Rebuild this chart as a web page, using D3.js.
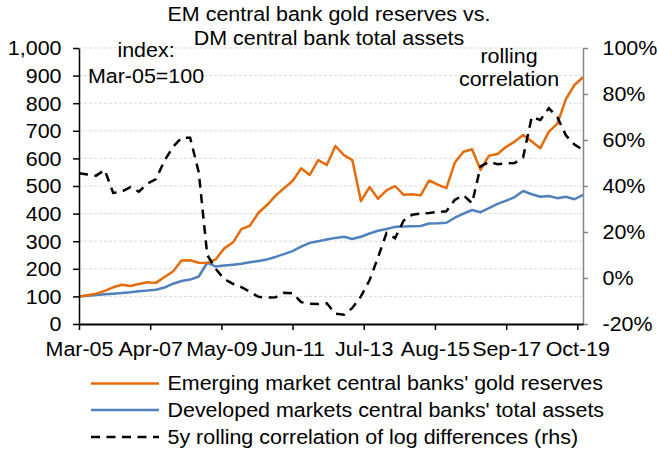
<!DOCTYPE html>
<html>
<head>
<meta charset="utf-8">
<script src="https://cdn.jsdelivr.net/npm/d3@7"></script>
<style>
  html, body { margin: 0; padding: 0; background: #fff; }
  svg { display: block; font-family: "Liberation Sans", Arial, sans-serif; }
</style>
</head>
<body>
<svg id="chart" width="657" height="450"></svg>
<script>
// ---------------- data (quarterly, Mar-05 .. Dec-19) ----------------
const emGold = [100,104,110,120,133,142,138,145,151,149,
                170,190,230,231,222,221,234,274,295,344,
                356,403,431,465,492,518,564,540,594,576,
                645,612,594,445,496,454,484,500,468,470,
                466,520,505,492,585,624,633,558,610,616,
                642,661,685,661,637,697,725,815,866,894];
const dmAssets = [100,102,105,108,110,112,115,119,121,124,
                  132,146,156,161,172,222,208,212,215,218,
                  224,228,234,243,253,264,280,294,300,306,
                  312,316,308,316,328,338,344,352,353,354,
                  355,364,365,367,385,400,413,405,420,435,
                  447,460,482,470,461,464,456,461,452,468];
const rollCorr = [45.5,45,44.5,47,37,37.5,39.5,37.5,41,43,
                  51,57,61,61,46,10,4,-0.5,-2.5,-4,
                  -6,-8.2,-8.5,-8.4,-6.4,-6.6,-10.5,-11.2,-11.3,-11,
                  -15.5,-16,-13,-8,-1,9,19.5,17.3,25,27.5,
                  28,28.3,28.7,29,34,36,32.5,48.5,50.5,49.5,
                  49.8,50,52.5,70,68.7,73.8,70,62,58,55.7];
const xTickLabels = ["Mar-05","Apr-07","May-09","Jun-11","Jul-13","Aug-15","Sep-17","Oct-19"];
const leftTicks = [0,100,200,300,400,500,600,700,800,900,1000];
const rightTicks = [-20,0,20,40,60,80,100];
const titleLines = ["EM central bank gold reserves vs.", "DM central bank total assets"];
const seriesNames = ["Emerging market central banks' gold reserves",
                     "Developed markets central banks' total assets",
                     "5y rolling correlation of log differences (rhs)"];

const dates = d3.timeMonth.range(new Date(2005, 2, 1), new Date(2020, 0, 1), 3);
const parseTick = d3.timeParse("%b-%y");
const tickDates = xTickLabels.map(parseTick);

// ---------------- layout ----------------
const FS = 19.5, SX = 1.1;
const ORANGE = "#E46C0A", BLUE = "#4F81BD", DASH = "9,6.5";
const L = 79, R = 583, T = 48, B = 324;
const svg = d3.select("#chart");

const x = d3.scaleTime().domain([dates[0], dates[dates.length - 1]]).range([L, R]);
const yL = d3.scaleLinear().domain([0, 1000]).range([B, T]);
const yR = d3.scaleLinear().domain([-20, 100]).range([B, T]);

function stretch(sel) {
  sel.each(function () {
    const t = d3.select(this);
    const tx = +t.attr("x") || 0, ty = +t.attr("y") || 0;
    t.attr("x", 0).attr("y", 0)
     .attr("transform", `translate(${tx},${ty}) scale(${SX},1)`);
  });
}

// gridlines
svg.append("g").selectAll("line")
  .data(leftTicks.filter(d => d > 0))
  .join("line")
  .attr("x1", L).attr("x2", R)
  .attr("y1", d => yL(d)).attr("y2", d => yL(d))
  .attr("stroke", "#d9d9d9").attr("stroke-width", 1)
  .attr("stroke-dasharray", "3,2");

// lines
const lineL = d3.line().x((d, i) => x(dates[i])).y(d => yL(d));
const lineR = d3.line().x((d, i) => x(dates[i])).y(d => yR(d));

svg.append("path").datum(dmAssets).attr("d", lineL)
  .attr("fill", "none").attr("stroke", BLUE).attr("stroke-width", 2.5)
  .attr("stroke-linejoin", "round");
svg.append("path").datum(emGold).attr("d", lineL)
  .attr("fill", "none").attr("stroke", ORANGE).attr("stroke-width", 2.5)
  .attr("stroke-linejoin", "round");
svg.append("path").datum(rollCorr).attr("d", lineR)
  .attr("fill", "none").attr("stroke", "#000").attr("stroke-width", 2.5)
  .attr("stroke-dasharray", DASH);

// axes
const gL = svg.append("g").attr("transform", `translate(${L},0)`)
  .call(d3.axisLeft(yL).tickValues(leftTicks).tickFormat(d3.format(",")).tickSize(6).tickPadding(11.5).tickSizeOuter(0));
const gR = svg.append("g").attr("transform", `translate(${R},0)`)
  .call(d3.axisRight(yR).tickValues(rightTicks).tickFormat(d => d + "%").tickSize(5).tickPadding(14.5).tickSizeOuter(0));
const gB = svg.append("g").attr("transform", `translate(0,${B})`)
  .call(d3.axisBottom(x).tickValues(tickDates).tickFormat(d3.timeFormat("%b-%y")).tickSize(6).tickPadding(12.5).tickSizeOuter(0));

[gL, gR, gB].forEach(g => {
  g.selectAll("text").attr("font-size", FS).attr("fill", "#000")
    .attr("font-family", '"Liberation Sans", Arial, sans-serif');
  g.attr("font-size", null).attr("font-family", null);
});
gL.selectAll("text").attr("dy", "0.35em");
gR.selectAll("text").attr("dy", "0.35em");
gL.select(".domain").attr("stroke", "#000").attr("stroke-width", 1.5);
gL.selectAll(".tick line").attr("stroke", "#000").attr("stroke-width", 1.5);
gB.select(".domain").attr("stroke", "#000").attr("stroke-width", 2);
gB.selectAll(".tick line").attr("stroke", "#000").attr("stroke-width", 1.5);
gR.select(".domain").attr("stroke", "#868686").attr("stroke-width", 1.5);
gR.selectAll(".tick line").attr("stroke", "#868686").attr("stroke-width", 1.5);
[gL, gR, gB].forEach(g => stretch(g.selectAll("text")));

// titles / annotations
function label(txt, cx, y, anchor) {
  svg.append("text").text(txt)
    .attr("text-anchor", anchor || "middle")
    .attr("font-size", FS).attr("fill", "#000")
    .attr("transform", `translate(${cx},${y}) scale(${SX},1)`);
}
label(titleLines[0], 329, 21);
label(titleLines[1], 329, 45);
label("index:", 146, 57);
label("Mar-05=100", 146, 83);
label("rolling", 509, 63);
label("correlation", 509, 86);

// legend
const legend = svg.append("g");
const legY = [390, 416.5, 443.5];
const legStyles = [
  { stroke: ORANGE, dash: null },
  { stroke: BLUE, dash: null },
  { stroke: "#000", dash: DASH }
];
seriesNames.forEach((name, i) => {
  legend.append("line")
    .attr("x1", 91).attr("x2", 159)
    .attr("y1", legY[i] - 6.5).attr("y2", legY[i] - 6.5)
    .attr("stroke", legStyles[i].stroke).attr("stroke-width", 2.5)
    .attr("stroke-dasharray", legStyles[i].dash);
  legend.append("text").text(name)
    .attr("font-size", FS).attr("fill", "#000")
    .attr("transform", `translate(167.5,${legY[i]}) scale(${SX},1)`);
});
</script>
</body>
</html>
